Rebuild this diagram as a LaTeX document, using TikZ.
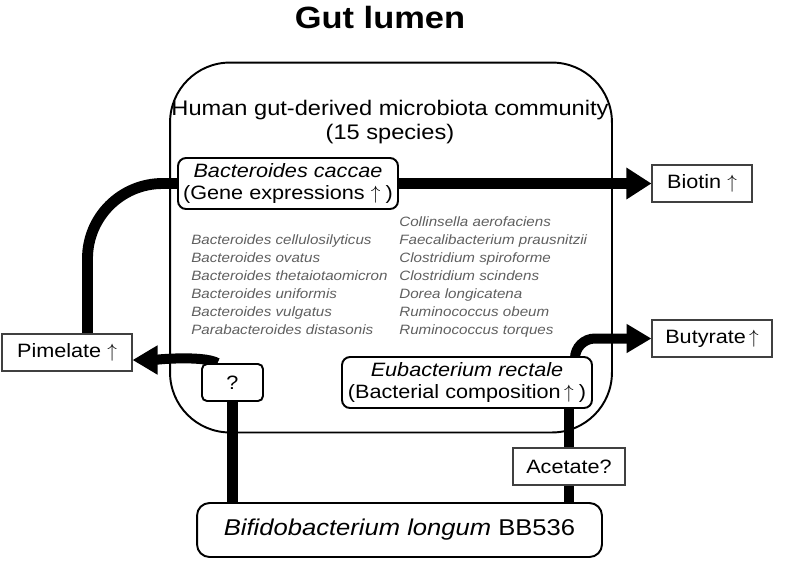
\documentclass[tikz,border=0pt]{standalone}
\usepackage{fontspec}
\setmainfont{Liberation Sans}[FakeStretch=1.12]
\usetikzlibrary{arrows.meta}
\definecolor{speciesgray}{RGB}{95,95,95}
\newcommand{\up}{\ensuremath{\uparrow}}
\pgfdeclarelayer{background}
\pgfsetlayers{background,main}

\begin{document}
\begin{tikzpicture}[x=0.02cm,y=-0.02cm,
    roundbox/.style={draw,line width=1.1pt,rounded corners=0.16cm,fill=white,inner sep=0pt,align=center,font=\fontsize{11}{13}\selectfont},
    plainbox/.style={draw=black!75,line width=0.6pt,fill=white,inner sep=0pt,minimum height=0.74cm,font=\fontsize{11}{13}\selectfont},
    specieslist/.style={anchor=north west,align=left,inner sep=0pt,text=speciesgray,font=\fontsize{7.7}{10.3}\selectfont\itshape},
    fatline/.style={line width=6.2pt},
    fatarrow/.style={line width=5.7pt,-{Triangle[length=0.5cm,width=0.55cm]}}]
    \useasboundingbox (0,0) rectangle (787,562);

    \node (title) at (380,18) {\fontsize{17.5}{20}\selectfont\bfseries Gut lumen};
    \node[draw,line width=1.1pt,rounded corners=1.2cm,minimum width=8.84cm,minimum height=7.4cm] (community) at (391,247.5) {};
    \node[align=center,inner sep=0pt,font=\fontsize{12}{13.6}\selectfont] (header) at (390,122) {Human gut-derived microbiota community\\(15 species)};

    \node[roundbox,minimum width=4.4cm,minimum height=1.02cm] (caccae) at (288,183.5) {\textit{Bacteroides caccae}\\(Gene expressions \up\kern3pt)};
    \node[plainbox,minimum width=2cm] (biotin) at (702,183.5) {Biotin \up};
    \node[plainbox,minimum width=2.6cm] (pimelate) at (67,352.5) {Pimelate \up};
    \node[plainbox,minimum width=2.4cm] (butyrate) at (712,338.5) {Butyrate\,\up};
    \node[roundbox,rounded corners=0.1cm,minimum width=1.22cm,minimum height=0.74cm] (unknown) at (232.5,382.5) {?};
    \node[roundbox,minimum width=5cm,minimum height=1.02cm] (eubact) at (467,382.5) {\textit{Eubacterium rectale}\\(Bacterial composition\,\up\kern3pt)};
    \node[plainbox,minimum width=2.24cm] (acetate) at (569,466.5) {Acetate?};
    \node[roundbox,rounded corners=0.25cm,minimum width=8.1cm,minimum height=1.08cm,font=\fontsize{13}{15}\selectfont] (bifido) at (399.5,530) {\textit{Bifidobacterium longum} BB536};

    \node[specieslist] (leftlist) at (191,234) {Bacteroides cellulosilyticus\\Bacteroides ovatus\\Bacteroides thetaiotaomicron\\Bacteroides uniformis\\Bacteroides vulgatus\\Parabacteroides distasonis};
    \node[specieslist] (rightlist) at (399,216) {Collinsella aerofaciens\\Faecalibacterium prausnitzii\\Clostridium spiroforme\\Clostridium scindens\\Dorea longicatena\\Ruminococcus obeum\\Ruminococcus torques};

    \begin{pgfonlayer}{background}
    \draw[fatarrow,line width=6.8pt,-{Triangle[length=0.5cm,width=0.6cm]}] (caccae.east) -- (biotin.west);
    \draw[fatline,rounded corners=1.5cm] (caccae.west) -| ([xshift=0.41cm]pimelate.north);
    \draw[fatarrow] ([xshift=-0.3cm]unknown.north) to[out=150,in=0,looseness=0.5] ([yshift=-0.15cm]pimelate.east);
    \draw[fatline] (unknown.south) -- (unknown.south |- bifido.north);
    \draw[fatarrow,rounded corners=0.4cm] ([xshift=2.16cm]eubact.north) |- (butyrate.west);
    \draw[fatline] (acetate.center |- eubact.south) -- (acetate.center |- bifido.north);
    \end{pgfonlayer}
\end{tikzpicture}
\end{document}
